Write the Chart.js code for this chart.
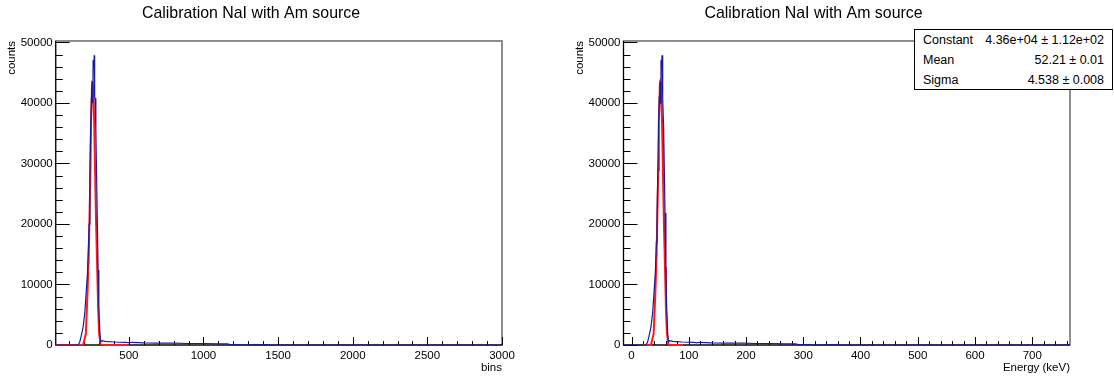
<!DOCTYPE html>
<html>
<head>
<meta charset="utf-8">
<script src="https://cdn.jsdelivr.net/npm/chart.js@4.4.1/dist/chart.umd.min.js"></script>
<style>
  body { margin: 0; background: #fff; }
  .pad { position: absolute; top: 0; width: 557px; height: 378px; }
  #stats {
    position: absolute; left: 914px; top: 29px; width: 197px; height: 59px;
    background: #fff; border: 1px solid #000;
    font: 12.5px "Liberation Sans", Arial, Helvetica, sans-serif; color: #000;
  }
  #stats div { position: relative; height: 20px; line-height: 20px; }
  #stats span.k { position: absolute; left: 8px; }
  #stats span.v { position: absolute; right: 8px; }
</style>
</head>
<body>
<div class="pad" style="left:0"><canvas id="graficoBins" width="557" height="378"></canvas></div>
<div class="pad" style="left:557px"><canvas id="graficoEnergia" width="557" height="378"></canvas></div>
<div id="stats">
  <div><span class="k">Constant</span><span class="v">4.36e+04 ± 1.12e+02</span></div>
  <div><span class="k">Mean</span><span class="v">52.21 ± 0.01</span></div>
  <div><span class="k">Sigma</span><span class="v">4.538 ± 0.008</span></div>
</div>
<script>
const titulo = "Calibration NaI with Am source";
const histBins = [10, 160, 170, 180, 194, 205, 216, 223, 230, 234, 239, 245, 250, 254, 258, 261, 265, 268, 271, 274, 279, 284, 288, 294, 299, 306, 312, 320, 340, 400, 480, 500, 520, 600, 700, 800, 900, 1000, 1100, 1160, 1180, 1250, 1260, 1430, 1440, 3000];
const histEnergia = [-14.0, 25.1, 27.8, 30.4, 34.0, 36.9, 39.8, 41.6, 43.4, 44.5, 45.8, 47.3, 48.6, 49.7, 50.7, 51.5, 52.5, 53.3, 54.1, 54.9, 56.2, 57.5, 58.5, 60.1, 61.4, 63.2, 64.8, 66.9, 72.1, 87.8, 108.6, 113.9, 119.1, 139.9, 166.0, 192.1, 218.2, 244.3, 270.4, 286.0, 291.3, 309.5, 312.1, 356.5, 359.1, 766.1];
const histCuentas = [0, 0, 400, 1400, 3000, 5300, 9400, 11900, 17000, 20000, 28400, 36700, 41000, 43300, 40000, 47100, 46000, 47900, 41000, 40800, 35500, 28000, 21800, 12400, 6300, 1900, 550, 700, 600, 500, 450, 350, 450, 350, 300, 300, 250, 250, 200, 200, 60, 80, 0, 50, 0, 0];

// ajuste gaussiano (curva roja)
const ajusteBins = [10, 194, 212, 223, 232, 237, 243, 247, 254, 256, 261, 268, 274, 281, 288, 294, 301, 310, 320, 500];
const ajusteEnergia = [20, 34.0, 38.7, 41.6, 43.9, 45.2, 46.8, 47.8, 49.7, 50.2, 51.5, 53.3, 54.9, 56.7, 58.5, 60.1, 61.9, 64.3, 66.9, 90];
const ajusteCuentas = [0, 0, 1900, 8500, 15200, 21800, 28900, 37200, 43500, 43600, 42500, 36700, 28400, 19600, 12900, 6300, 1900, 170, 0, 0];

// marcas de los ejes
const ticksBins = [500, 1000, 1500, 2000, 2500, 3000];
const ticksEnergia = [0, 100, 200, 300, 400, 500, 600, 700];
const ticksCuentas = [0, 10000, 20000, 30000, 40000, 50000];

const fuente = "'Liberation Sans', Arial, Helvetica, sans-serif";

// marco y marcas hacia dentro, estilo ROOT
const marcoRoot = {
  id: "marcoRoot",
  beforeDatasetsDraw(chart, args, opts) {
    const { ctx, chartArea: a, scales: { x, y } } = chart;
    ctx.save();
    ctx.strokeStyle = "#6a6a6a";
    ctx.lineWidth = 1.5;
    ctx.strokeRect(a.left, a.top, a.right - a.left, a.bottom - a.top);
    ctx.strokeStyle = "#000";
    ctx.lineWidth = 1;
    ctx.beginPath();
    ctx.moveTo(a.left, a.top);
    ctx.lineTo(a.left, a.bottom);
    ctx.lineTo(a.right, a.bottom);
    for (let v = Math.ceil(x.min / opts.xMenor) * opts.xMenor; v <= x.max; v += opts.xMenor) {
      const px = Math.round(x.getPixelForValue(v)) + 0.5;
      const largo = Math.abs(v % opts.xMayor) < 1e-6 ? 8 : 4;
      ctx.moveTo(px, a.bottom);
      ctx.lineTo(px, a.bottom - largo);
    }
    for (let v = 0; v <= y.max; v += 2000) {
      const py = Math.round(y.getPixelForValue(v)) + 0.5;
      const largo = v % 10000 === 0 ? 14 : 7;
      ctx.moveTo(a.left, py);
      ctx.lineTo(a.left + largo, py);
    }
    ctx.stroke();
    ctx.restore();
  },
};

function crearGrafico(id, xs, xsAjuste, conf) {
  const ctx = document.getElementById(id).getContext("2d");
  return new Chart(ctx, {
    type: "line",
    data: {
      datasets: [
        {
          data: xs.map((v, i) => ({ x: v, y: histCuentas[i] })),
          borderColor: "#1a1a9c",
          borderWidth: 1.2,
          pointRadius: 0,
          tension: 0,
          clip: 3,
        },
        {
          data: xsAjuste.map((v, i) => ({ x: v, y: ajusteCuentas[i] })),
          borderColor: "#ff1a1a",
          borderWidth: 2,
          pointRadius: 0,
          tension: 0,
          clip: 3,
        },
      ],
    },
    options: {
      responsive: false,
      animation: false,
      devicePixelRatio: 1,
      layout: { padding: { top: 0, left: 0, right: conf.derecha, bottom: 0 } },
      plugins: {
        legend: { display: false },
        tooltip: { enabled: false },
        title: {
          display: true,
          text: titulo,
          color: "#000",
          font: { family: fuente, size: 15.9, weight: "normal" },
          padding: { top: 4, bottom: 17.9 },
        },
        marcoRoot: { xMayor: conf.xMayor, xMenor: conf.xMenor },
      },
      scales: {
        x: {
          type: "linear",
          min: conf.xMin,
          max: conf.xMax,
          grid: { display: false, drawTicks: false },
          border: { display: false },
          afterBuildTicks: (s) => { s.ticks = conf.ticksX.map((v) => ({ value: v })); },
          ticks: {
            color: "#000",
            padding: 4,
            maxRotation: 0,
            autoSkip: false,
            font: { family: fuente, size: 11.5 },
            callback: (v) => String(v),
          },
          title: {
            display: true,
            text: conf.tituloX,
            align: "end",
            color: "#000",
            font: { family: fuente, size: 11.5 },
            padding: { top: 0, bottom: 3 },
          },
          afterFit: (s) => { s.height = 33; },
        },
        y: {
          type: "linear",
          min: 0,
          max: 50250,
          grid: { display: false, drawTicks: false },
          border: { display: false },
          afterBuildTicks: (s) => { s.ticks = ticksCuentas.map((v) => ({ value: v })); },
          ticks: {
            color: "#000",
            padding: 3,
            autoSkip: false,
            font: { family: fuente, size: 11.5 },
            callback: (v) => String(v),
          },
          title: {
            display: true,
            text: "counts",
            align: "end",
            color: "#000",
            font: { family: fuente, size: 11.5 },
            padding: { top: conf.tituloYPad, bottom: 0 },
          },
          afterFit: (s) => { s.width = conf.izquierda; },
        },
      },
    },
    plugins: [marcoRoot],
  });
}

crearGrafico("graficoBins", histBins, ajusteBins, {
  xMin: 10, xMax: 3000, xMayor: 500, xMenor: 100, ticksX: ticksBins,
  tituloX: "bins", izquierda: 55.7, derecha: 55, tituloYPad: 5,
});

crearGrafico("graficoEnergia", histEnergia, ajusteEnergia, {
  xMin: -14, xMax: 766, xMayor: 100, xMenor: 20, ticksX: ticksEnergia,
  tituloX: "Energy (keV)", izquierda: 66.5, derecha: 44, tituloYPad: 16,
});
</script>
</body>
</html>
